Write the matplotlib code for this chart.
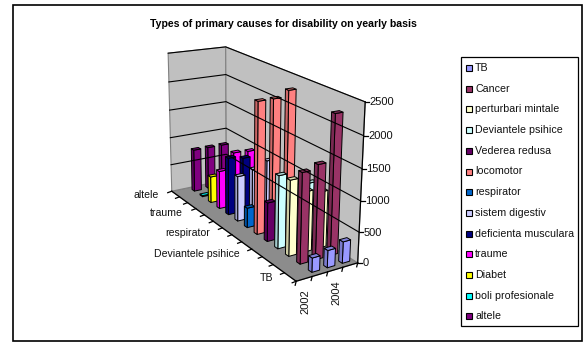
import numpy as np
import matplotlib
matplotlib.use("Agg")
import matplotlib.pyplot as plt
from matplotlib.colors import to_rgb

plt.rcParams["font.family"] = ["Liberation Sans", "DejaVu Sans"]

years = [2002, 2003, 2004, 2005]
year_labels = {0: "2002", 2: "2004"}
categories = ["TB", "Cancer", "perturbari mintale", "Deviantele psihice", "Vederea redusa",
              "locomotor", "respirator", "sistem digestiv", "deficienta musculara", "traume",
              "Diabet", "boli profesionale", "altele"]
category_labels = {12: "altele", 9: "traume", 6: "respirator", 3: "Deviantele psihice", 0: "TB"}
colors = ["#9999FF", "#993366", "#FFFFCC", "#CCFFFF", "#660066", "#FF8080", "#0066CC",
          "#CCCCFF", "#000080", "#FF00FF", "#FFFF00", "#00FFFF", "#800080"]

# one row per category, one column per year
tb = [0, 230, 280, 350]
cancer = [0, 1450, 1520, 2250]
perturbari = [0, 1230, 990, 930]
deviantele = [0, 1200, 1000, 970]
vederea = [0, 650, 600, 600]
locomotor = [0, 2200, 2200, 2300]
respirator = [0, 340, 300, 300]
digestiv = [0, 780, 850, 950]
musculara = [0, 1000, 950, 950]
traume = [0, 670, 950, 930]
diabet = [0, 470, 300, 300]
boli = [0, 20, 20, 20]
altele = [0, 770, 770, 770]
values = [tb, cancer, perturbari, deviantele, vederea, locomotor, respirator, digestiv,
          musculara, traume, diabet, boli, altele]
value_ticks = [0, 500, 1000, 1500, 2000, 2500]

# Camera fitted on the box corners: (year, category, height) in unit cube -> pixels
corners = [((0, 0, 0), (296, 283)), ((1, 0, 0), (358, 261)), ((0, 1, 0), (172, 189)),
           ((1, 1, 0), (226, 182)), ((0, 1, 1), (168, 54)), ((1, 1, 1), (226, 46)),
           ((1, 0, 1), (365, 102))]
rows = []
for (a, b, c), (px, py) in corners:
    rows.append([a, b, c, 1, 0, 0, 0, 0, -px * a, -px * b, -px * c, -px])
    rows.append([0, 0, 0, 0, a, b, c, 1, -py * a, -py * b, -py * c, -py])
camera = np.linalg.svd(np.array(rows, float))[2][-1].reshape(3, 4)


def project(u, v, w):
    x, y, z = camera @ np.array([u, v, w, 1.0])
    return x / z, y / z


def shade(color, factor):
    return tuple(min(1, c * factor) for c in to_rgb(color))


fig = plt.figure(figsize=(5.87, 3.43), dpi=100)
ax = fig.add_axes([0, 0, 1, 1])
ax.set_xlim(0, 587)
ax.set_ylim(343, 0)
ax.axis("off")

# chart frame
ax.add_patch(plt.Rectangle((13, 5), 569, 336, fc="white", ec="black", lw=1.2))
ax.text(283, 24, "Types of primary causes for disability on yearly basis",
        fontsize=7.6, fontweight="bold", ha="center", va="center", color="black")


def face(points, fc, ec="#808080", lw=0.8):
    ax.fill(*zip(*[project(*p) for p in points]), fc=fc, ec=ec, lw=lw, joinstyle="round")


# walls and floor
face([(0, 0, 0), (1, 0, 0), (1, 1, 0), (0, 1, 0)], "#8C8C8C")
face([(0, 1, 0), (1, 1, 0), (1, 1, 1), (0, 1, 1)], "#C0C0C0")
face([(1, 0, 0), (1, 1, 0), (1, 1, 1), (1, 0, 1)], "#C0C0C0")

# gridlines and the value axis
top = value_ticks[-1]
for t in value_ticks[1:]:
    w = t / top
    pts = [project(0, 1, w), project(1, 1, w), project(1, 0, w)]
    ax.plot(*zip(*pts), color="black", lw=0.8, solid_joinstyle="miter")
ax.plot(*zip(project(1, 0, 0), project(1, 0, 1)), color="black", lw=0.9)
for t in value_ticks:
    x, y = project(1, 0, t / top)
    ax.plot([x, x + 4], [y, y], color="black", lw=0.9)
    ax.text(x + 4.5, y + 0.5, str(t), fontsize=8, ha="left", va="center", color="#111111")

# floor edge axes with their ticks
ax.plot(*zip(project(0, 0, 0), project(1, 0, 0)), color="black", lw=0.9)
ax.plot(*zip(project(0, 0, 0), project(0, 1, 0)), color="black", lw=0.9)
for i in range(len(years) + 1):
    x, y = project(i / len(years), 0, 0)
    ax.plot([x, x - 1], [y, y + 4], color="black", lw=0.9)
for j in range(len(categories) + 1):
    x, y = project(0, j / len(categories), 0)
    ax.plot([x, x - 4], [y, y + 1.5], color="black", lw=0.9)

for i, label in year_labels.items():
    x, y = project((i + 0.5) / len(years), 0, 0)
    ax.text(x + 1, y + 10.5, label, fontsize=8, rotation=90, ha="center", va="top", color="#111111")
for j, label in category_labels.items():
    x, y = project(0, (j + 0.5) / len(categories), 0)
    ax.text(x - 17, y + 1.5, label, fontsize=7.6, ha="right", va="center", color="#111111")

# bars, painted from the far corner of the box towards the viewer
du = 0.5 / len(years) / 2
dv = 0.3 / len(categories) / 2
for j in reversed(range(len(categories))):
    for i in reversed(range(len(years))):
        val = values[j][i]
        if val <= 0:
            continue
        cu = (i + 0.5) / len(years)
        cv = (j + 0.5) / len(categories)
        w = val / top
        u0, u1, v0, v1 = cu - du, cu + du, cv - dv, cv + dv
        col = colors[j]
        face([(u0, v0, 0), (u1, v0, 0), (u1, v0, w), (u0, v0, w)], col, "black", 0.7)
        face([(u0, v0, 0), (u0, v1, 0), (u0, v1, w), (u0, v0, w)], shade(col, 0.8), "black", 0.7)
        face([(u0, v0, w), (u1, v0, w), (u1, v1, w), (u0, v1, w)], shade(col, 0.85), "black", 0.7)

# legend
ax.add_patch(plt.Rectangle((461, 57), 117, 269, fc="white", ec="black", lw=0.9))
for k, (name, col) in enumerate(zip(categories, colors)):
    y = 68 + k * 20.7
    ax.add_patch(plt.Rectangle((465.5, y - 3), 6, 6, fc=col, ec="black", lw=0.8))
    ax.text(475, y, name, fontsize=7.7, ha="left", va="center", color="#111111")

fig.savefig("out.png", dpi=100, facecolor="white")
